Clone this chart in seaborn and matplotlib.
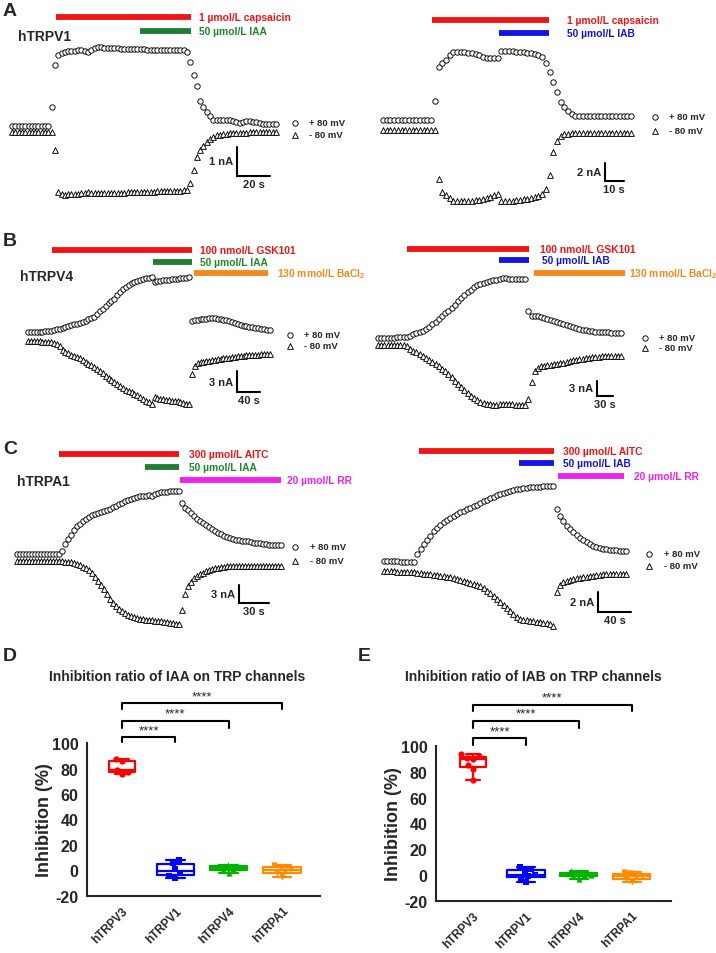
import numpy as np
import pandas as pd
import matplotlib.pyplot as plt
import seaborn as sns

# ---------------- trace data (nA), one value per sweep ----------------
# A: hTRPV1, capsaicin + IAA
a1_pos = [0.12, 0.10, 0.11, 0.10, 0.10, 0.11, 0.10, 0.10, 0.11, 0.10, 0.10, 0.10,
          0.76, 2.20, 2.55,
          2.62, 2.66, 2.68, 2.70, 2.70, 2.71, 2.72, 2.70, 2.66, 2.72, 2.78,
          2.82, 2.82, 2.80, 2.80, 2.79, 2.78, 2.78, 2.77, 2.77, 2.76, 2.76, 2.76, 2.75, 2.75,
          2.75, 2.74, 2.74, 2.74, 2.73, 2.73, 2.73, 2.72, 2.72, 2.72, 2.72, 2.71, 2.71, 2.66,
          2.31, 1.86, 1.48, 0.97, 0.76, 0.59, 0.45, 0.31,
          0.30, 0.30, 0.31, 0.31, 0.30, 0.28, 0.25, 0.22, 0.24, 0.27, 0.27, 0.25, 0.23, 0.20,
          0.18, 0.17, 0.17, 0.16, 0.16]
a1_neg = [-0.10, -0.10, -0.11, -0.10, -0.10, -0.10, -0.11, -0.10, -0.10, -0.10, -0.11, -0.10, -0.10,
          -0.72, -2.17,
          -2.24, -2.26, -2.25, -2.24, -2.24, -2.23, -2.22, -2.20, -2.17, -2.20, -2.22, -2.22, -2.21,
          -2.21, -2.20, -2.20, -2.20, -2.19, -2.19, -2.19, -2.18, -2.18, -2.18, -2.17, -2.17, -2.17,
          -2.16, -2.16, -2.16, -2.15, -2.15, -2.15, -2.14, -2.14, -2.14, -2.13, -2.13, -2.12, -2.10,
          -1.86, -1.41, -0.97, -0.72, -0.59, -0.45, -0.34,
          -0.26, -0.22, -0.19, -0.17, -0.16, -0.15, -0.14, -0.14, -0.13, -0.13, -0.13, -0.12, -0.12,
          -0.12, -0.12, -0.11, -0.11, -0.11, -0.11, -0.11]

# A: hTRPV1, capsaicin + IAB
a2_pos = [0.55, 0.56, 0.55, 0.55, 0.56, 0.55, 0.55, 0.55, 0.56, 0.55, 0.55, 0.55, 0.56, 0.55,
          2.67, 6.44, 6.89, 7.22, 7.78,
          8.1, 8.1, 8.1, 8.1, 8.05, 8.0, 7.9, 7.8, 7.6, 7.5, 7.45, 7.4, 7.4,
          8.2, 8.2, 8.2, 8.2, 8.15, 8.1, 8.1, 8.05, 8.0, 7.9, 7.8, 7.56,
          6.9, 5.9, 4.8, 3.67, 2.56, 2.0, 1.56, 1.22,
          1.02, 1.0, 1.0, 1.01, 1.0, 1.0, 0.99, 1.0, 1.0, 1.0, 0.99, 1.0, 1.0, 0.99, 1.0, 1.0]
a2_neg = [-0.55, -0.55, -0.55, -0.56, -0.55, -0.55, -0.55, -0.56, -0.55, -0.55, -0.55, -0.56,
          -0.55, -0.55, -0.55,
          -6.0, -7.44, -7.78, -8.1,
          -8.4, -8.45, -8.5, -8.5, -8.45, -8.4, -8.35, -8.3, -8.2, -8.1, -7.95, -7.8, -7.7,
          -8.45, -8.45, -8.4, -8.4, -8.35, -8.3, -8.25, -8.2, -8.1, -8.0, -7.9,
          -7.67, -7.1, -5.56, -3.0, -1.78, -1.22, -1.0,
          -0.95, -0.93, -0.92, -0.91, -0.9, -0.9, -0.89, -0.89, -0.88, -0.88, -0.88, -0.87,
          -0.87, -0.87, -0.86, -0.86, -0.86, -0.85]

# B: hTRPV4, GSK101 + IAA, then BaCl2
b1_pos = [0.71, 0.72, 0.73, 0.74, 0.76, 0.78, 0.80, 0.83, 0.86,
          0.98, 1.1, 1.2, 1.32, 1.45, 1.57, 1.68, 1.80, 1.92, 2.03, 2.14,
          2.35, 2.55, 2.72, 2.9, 3.3, 3.65, 4.0, 4.4, 4.8, 5.1, 5.45,
          5.95, 6.4, 6.85, 7.15, 7.4, 7.65, 7.9, 8.05, 8.15, 8.3, 8.4, 8.5, 8.55,
          7.9, 8.0, 8.05, 8.1, 8.15, 8.2, 8.25, 8.3, 8.35, 8.4, 8.45, 8.5, 8.55,
          2.3, 2.38, 2.45, 2.52, 2.58, 2.64, 2.68, 2.71,
          2.68, 2.62, 2.55, 2.46, 2.37, 2.27, 2.14,
          2.0, 1.88, 1.76, 1.64, 1.53, 1.43,
          1.36, 1.29, 1.22, 1.16, 1.10, 1.05, 1.0]
b1_neg = [-0.57, -0.58, -0.6, -0.62, -0.64, -0.66, -0.68, -0.7, -0.72,
          -0.8, -0.95, -1.3, -1.9, -2.15, -2.35, -2.5, -2.65, -2.85,
          -3.05, -3.3, -3.55, -3.8, -4.05, -4.3, -4.6, -4.9, -5.2, -5.5,
          -5.8, -6.1, -6.4, -6.7, -7.0, -7.25, -7.5, -7.7, -7.9, -8.1,
          -8.35, -8.6, -8.85, -9.1, -9.3, -9.5,
          -8.6, -8.7, -8.8, -8.9, -9.0, -9.05, -9.1, -9.15, -9.2, -9.3, -9.4, -9.5, -9.55,
          -5.3, -4.2, -3.75, -3.6, -3.5, -3.42, -3.36, -3.3,
          -3.25, -3.2, -3.13, -3.06, -3.0, -2.93, -2.86,
          -2.8, -2.75, -2.7, -2.65, -2.6, -2.57,
          -2.55, -2.52, -2.5, -2.48, -2.46, -2.44, -2.43]

# B: hTRPV4, GSK101 + IAB, then BaCl2
b2_pos = [0.67, 0.68, 0.70, 0.72, 0.74, 0.76, 0.79, 0.82, 0.86,
          0.9, 1.1, 1.4, 1.6, 1.8, 2.05, 2.4, 2.8, 3.3, 3.8, 4.3, 4.85, 5.4, 5.95, 6.5, 7.1,
          7.7, 8.3, 8.9, 9.5, 9.95, 10.4, 10.8, 11.1, 11.3, 11.5, 11.65, 11.8, 11.9, 12.05,
          12.2, 12.15, 12.1, 12.1, 12.05, 12.05, 12.0, 12.0,
          5.9, 4.95, 4.9, 4.85, 4.75, 4.6, 4.4, 4.2, 3.95, 3.7, 3.5, 3.3, 3.1, 2.9, 2.7,
          2.55, 2.4, 2.25, 2.15, 2.05, 1.97, 1.9, 1.85, 1.82, 1.78, 1.74, 1.7, 1.67, 1.65, 1.63]
b2_neg = [-0.67, -0.67, -0.68, -0.68, -0.69, -0.7, -0.7, -0.72, -0.75,
          -0.9, -1.5, -1.9, -2.1, -2.4, -2.75, -3.1, -3.5, -3.9, -4.3, -4.7, -5.2, -5.75,
          -6.3, -6.9, -7.5, -8.1, -8.7, -9.3, -9.9, -10.4, -10.9, -11.3, -11.65, -11.85,
          -12.0, -12.1, -12.2, -12.2, -12.1, -12.0,
          -12.05, -12.1, -12.1, -12.15, -12.15, -12.2, -12.2,
          -11.0, -7.8, -5.6, -5.0, -4.8, -4.65, -4.55, -4.45, -4.38, -4.3, -4.2, -4.05,
          -3.9, -3.75, -3.6, -3.5, -3.4, -3.3, -3.2, -3.12, -3.05, -2.98, -2.92, -2.87,
          -2.83, -2.8, -2.78, -2.76, -2.75, -2.73]

# C: hTRPA1, AITC + IAA, then RR
c1_pos = [0.58, 0.58, 0.57, 0.58, 0.58, 0.58, 0.57, 0.58, 0.58, 0.58, 0.57, 0.58, 0.58, 0.58,
          0.58, 1.08, 2.25, 3.1, 3.75, 4.6, 5.25, 5.6, 6.1, 6.4, 6.75, 7.1, 7.25, 7.4,
          7.6, 7.75, 7.9, 8.1, 8.4, 8.6, 8.9, 9.1, 9.4, 9.6, 9.75, 9.9, 10.1, 10.25,
          10.25, 10.3, 10.4, 10.25, 10.6, 10.75, 10.9, 10.9, 11.0, 11.1, 11.1, 11.1, 11.1,
          9.1, 8.25, 7.9, 7.4, 6.9, 6.4, 6.1, 5.75, 5.4, 5.1, 4.75, 4.4, 4.1, 3.85, 3.6,
          3.4, 3.25, 3.1, 3.0, 2.9, 2.8, 2.75, 2.67, 2.6, 2.5, 2.42, 2.35, 2.25, 2.2,
          2.15, 2.1, 2.08, 2.05, 2.05]
c1_neg = [-0.58, -0.58, -0.58, -0.57, -0.58, -0.58, -0.58, -0.58, -0.57, -0.58, -0.58, -0.58,
          -0.58, -0.58,
          -0.6, -0.65, -0.7, -0.75, -0.8, -0.9, -1.0, -1.25, -1.5, -1.8, -2.1, -2.6, -3.2,
          -3.9, -4.6, -5.3, -6.0, -6.9, -7.5, -8.0, -8.5, -8.9, -9.3, -9.55, -9.75, -9.95,
          -10.1, -10.25, -10.3, -10.35, -10.4, -10.45, -10.5, -10.6, -10.65, -10.7, -10.8,
          -10.85, -10.9, -11.0, -11.1,
          -8.75, -6.1, -4.75, -4.1, -3.4, -3.1, -2.75, -2.5, -2.25, -2.0, -1.9, -1.75,
          -1.67, -1.6, -1.5, -1.45, -1.42, -1.42, -1.41, -1.41, -1.4, -1.4, -1.4, -1.39,
          -1.39, -1.38, -1.38, -1.38, -1.37, -1.37, -1.37, -1.36, -1.36, -1.36]

# C: hTRPA1, AITC + IAB, then RR
c2_pos = [0.5, 0.5, 0.5, 0.48, 0.46, 0.45, 0.44, 0.43, 0.42, 0.42,
          1.2, 1.7, 2.2, 2.6, 3.0, 3.5, 3.8, 4.1, 4.4, 4.6, 4.8, 5.0, 5.2, 5.4, 5.55, 5.7,
          5.85, 6.0, 6.15, 6.3, 6.5, 6.65, 6.8, 6.95, 7.1, 7.2, 7.3, 7.4, 7.5, 7.6, 7.7,
          7.75, 7.8, 7.85, 7.9, 7.9, 7.95, 7.95, 8.0, 8.0, 8.05, 8.0,
          5.7, 5.0, 4.5, 4.0, 3.7, 3.4, 3.1, 2.85, 2.6, 2.4, 2.2, 2.05, 1.9, 1.8, 1.75,
          1.7, 1.65, 1.6, 1.6, 1.55, 1.5, 1.5]
c2_neg = [-0.5, -0.5, -0.52, -0.54, -0.55, -0.57, -0.58, -0.6, -0.6, -0.62,
          -0.65, -0.7, -0.75, -0.78, -0.8, -0.85, -0.9, -0.95, -1.0, -1.05, -1.1, -1.2,
          -1.3, -1.4, -1.5, -1.55, -1.65, -1.75, -1.85, -2.0, -2.2, -2.45, -2.7, -2.95,
          -3.25, -3.55, -3.85, -4.2, -4.5, -4.8, -5.1, -5.25, -5.35, -5.4, -5.45, -5.5,
          -5.55, -5.6, -5.65, -5.7, -5.8, -6.0,
          -2.6, -1.9, -1.6, -1.45, -1.35, -1.3, -1.2, -1.15, -1.1, -1.05, -1.0, -0.95,
          -0.9, -0.85, -0.82, -0.8, -0.8, -0.78, -0.78, -0.77, -0.76, -0.75]

# ---------------- inhibition ratios (%) ----------------
channels = ['hTRPV3', 'hTRPV1', 'hTRPV4', 'hTRPA1']
iaa_v3 = [76.0, 77.5, 79.0, 85.5, 87.5]
iaa_v1 = [-5.5, -4.0, -2.0, 1.5, 6.0, 8.0]
iaa_v4 = [-2.0, 0.5, 1.5, 2.5, 3.5, 4.5]
iaa_a1 = [-5.0, -2.0, -0.5, 1.0, 3.0, 4.0]
iab_v3 = [74.0, 82.0, 85.0, 90.0, 91.0, 92.5, 93.5]
iab_v1 = [-5.5, -2.5, -1.0, 0.5, 3.0, 5.0, 6.0]
iab_v4 = [-3.0, -1.0, 0.0, 0.5, 2.5, 3.5]
iab_a1 = [-5.5, -3.0, -1.5, -0.5, 1.5, 2.5]

W, H = 716, 954
RED, GREEN, BLUE, ORANGE, MAGENTA = '#F01515', '#1E7E34', '#1414E6', '#F28A1E', '#EE22EE'
GREEN_TXT = '#1D8A2A'
BOX_COLORS = ['#FF0000', '#0000FF', '#00B400', '#FF8C00']
BOX_MARKERS = ['o', 's', '^', 'v']
BOX_WIDTHS = [0.5, 0.7, 0.7, 0.7]

sns.set_style('white')
plt.rcParams['font.family'] = ['Liberation Sans', 'DejaVu Sans']
plt.rcParams['mathtext.fontset'] = 'custom'
plt.rcParams['mathtext.rm'] = 'Liberation Sans:bold'
plt.rcParams['mathtext.bf'] = 'Liberation Sans:bold'
plt.rcParams['axes.unicode_minus'] = False

fig = plt.figure(figsize=(W / 100, H / 100), dpi=100)
ov = fig.add_axes([0, 0, 1, 1])
ov.set_xlim(0, W)
ov.set_ylim(H, 0)
ov.axis('off')


def trace_ax(box, x0, y0, sx, sy):
    l, t, r, b = box
    ax = fig.add_axes([l / W, 1 - b / H, (r - l) / W, (b - t) / H])
    ax.set_xlim((l - x0) / sx, (r - x0) / sx)
    ax.set_ylim((y0 - b) / sy, (y0 - t) / sy)
    ax.axis('off')
    return ax


def draw_trace(p):
    ax = trace_ax(p['box'], p['x0'], p['y0'], p['sx'], p['sy'])
    for vals, mk, sz in [(p['neg'], '^', 17), (p['pos'], 'o', 15)]:
        t = np.arange(len(vals)) * p['dt']
        sns.scatterplot(x=t, y=vals, marker=mk, s=sz, color='white', edgecolor='black',
                        linewidth=0.65, ax=ax, legend=False, clip_on=False, zorder=3)
    ct, cc, cl, tl = p['bar']
    ax.plot([ct, ct, ct + tl], [cc + cl, cc, cc], color='black', lw=1.5,
            solid_joinstyle='miter', clip_on=False)
    ax.annotate(p['bar_txt'][0], xy=(ct, cc + cl / 2), xytext=(-2.5, 0),
                textcoords='offset points', ha='right', va='center',
                fontsize=8, fontweight='bold')
    ax.annotate(p['bar_txt'][1], xy=(ct + tl / 2, cc), xytext=(0, -2),
                textcoords='offset points', ha='center', va='top',
                fontsize=8, fontweight='bold')
    # drug application bars + labels (pixel coords)
    for (xa, xb, y, col, txt, tx, tcol) in p['drugs']:
        ov.plot([xa, xb], [y, y], color=col, lw=4.2, solid_capstyle='butt')
        ov.text(tx, y, txt, color=tcol, fontsize=7.4, fontweight='bold', va='center', ha='left')
    lx, ly1, ly2, ltx = p['legend']
    ov.scatter([lx], [ly1], marker='o', s=15, facecolor='white', edgecolor='black', linewidths=0.65)
    ov.scatter([lx], [ly2], marker='^', s=17, facecolor='white', edgecolor='black', linewidths=0.65)
    ov.text(ltx, ly1, '+ 80 mV', fontsize=6.8, fontweight='bold', va='center')
    ov.text(ltx, ly2, '- 80 mV', fontsize=6.8, fontweight='bold', va='center')


panels = [
    dict(pos=a1_pos, neg=a1_neg, dt=2, x0=12, y0=130, sx=1.65, sy=29, box=(5, 40, 285, 205),
         bar=(136.4, -1.62, 1, 20), bar_txt=('1 nA', '20 s'),
         drugs=[(56, 191, 18, RED, '1 µmol/L capsaicin', 199, RED),
                (140, 191, 32, GREEN, '50 µmol/L IAA', 199, GREEN_TXT)],
         legend=(295, 124, 136, 309)),
    dict(pos=a2_pos, neg=a2_neg, dt=2, x0=383, y0=126, sx=1.85, sy=9, box=(375, 40, 640, 210),
         bar=(120, -6.22, 2, 10), bar_txt=('2 nA', '10 s'),
         drugs=[(432, 549, 21, RED, '1 µmol/L capsaicin', 567, RED),
                (499, 549, 34, BLUE, '50 µmol/L IAB', 567, BLUE)],
         legend=(655, 118, 132, 669)),
    dict(pos=b1_pos, neg=b1_neg, dt=5, x0=28, y0=338, sx=0.575, sy=7, box=(20, 270, 280, 410),
         bar=(363.5, -7.86, 3, 40), bar_txt=('3 nA', '40 s'),
         drugs=[(52, 192, 251, RED, '100 nmol/L GSK101', 200, RED),
                (153, 192, 263, GREEN, '50 µmol/L IAA', 200, GREEN_TXT),
                (194, 268, 274, ORANGE, r'130 mmol/L BaCl$_2$', 277, ORANGE)],
         legend=(290, 336, 347, 304)),
    dict(pos=b2_pos, neg=b2_neg, dt=6, x0=378, y0=342.5, sx=0.533, sy=5.2, box=(370, 270, 630, 410),
         bar=(411, -10.5, 3, 30), bar_txt=('3 nA', '30 s'),
         drugs=[(407, 529, 250, RED, '100 nmol/L GSK101', 540, RED),
                (499, 529, 261, BLUE, '50 µmol/L IAB', 542, BLUE),
                (534, 625, 274, ORANGE, r'130 mmol/L BaCl$_2$', 629, ORANGE)],
         legend=(645, 339, 349, 659)),
    dict(pos=c1_pos, neg=c1_neg, dt=3, x0=17, y0=558.5, sx=1.0, sy=6, box=(10, 485, 290, 630),
         bar=(222, -7.6, 3, 30), bar_txt=('3 nA', '30 s'),
         drugs=[(59, 179, 455, RED, '300 µmol/L AITC', 189, RED),
                (145, 179, 468, GREEN, '50 µmol/L IAA', 189, GREEN_TXT),
                (180, 281, 481, MAGENTA, '20 µmol/L RR', 287, MAGENTA)],
         legend=(295, 548, 562, 310)),
    dict(pos=c2_pos, neg=c2_neg, dt=4, x0=384, y0=567, sx=0.83, sy=10, box=(375, 480, 635, 630),
         bar=(258, -4.6, 2, 40), bar_txt=('2 nA', '40 s'),
         drugs=[(419, 554, 452, RED, '300 µmol/L AITC', 563, RED),
                (519, 554, 464, BLUE, '50 µmol/L IAB', 563, BLUE),
                (558, 624, 477, MAGENTA, '20 µmol/L RR', 634, MAGENTA)],
         legend=(649, 555, 567, 664)),
]
for p in panels:
    draw_trace(p)

for txt, x, y in [('hTRPV1', 18, 37), ('hTRPV4', 20, 277), ('hTRPA1', 17, 482)]:
    ov.text(x, y, txt, fontsize=10, fontweight='bold', va='center')
for txt, x, y in [('A', 3, 12), ('B', 3, 242), ('C', 3, 450), ('D', 3, 657), ('E', 358, 657)]:
    ov.text(x, y, txt, fontsize=14, fontweight='bold', va='center')


# ---------------- box plots D / E ----------------
def box_panel(rect, xlim, groups_vals, title, tx, brackets):
    l, t, r, b = rect
    ax = fig.add_axes([l / W, 1 - b / H, (r - l) / W, (b - t) / H])
    df = pd.DataFrame({'channel': np.repeat(channels, [len(v) for v in groups_vals]),
                       'inhibition': np.concatenate(groups_vals)})
    for i, ch in enumerate(channels):
        sub = df[df['channel'] == ch]
        sns.boxplot(data=sub, x='channel', y='inhibition', order=channels, color=BOX_COLORS[i],
                    fill=False, width=BOX_WIDTHS[i], linewidth=1.6, whis=(0, 100),
                    showfliers=False, ax=ax)
        sns.swarmplot(data=sub, x='channel', y='inhibition', order=channels, color=BOX_COLORS[i],
                      marker=BOX_MARKERS[i], size=4.5, ax=ax)
    ax.set_xlim(*xlim)
    ax.set_ylim(-20, 100)
    ax.set_yticks(range(-20, 101, 20))
    ax.set_xticks(range(4))
    ax.set_xticklabels(channels, rotation=45, ha='right', rotation_mode='anchor',
                       fontsize=8.5, fontweight='bold')
    for lbl in ax.get_yticklabels():
        lbl.set_fontweight('bold')
    ax.tick_params(axis='y', labelsize=11.5, width=1.5, length=4, pad=2)
    ax.tick_params(axis='x', width=1.5, length=4, pad=2)
    ax.set_xlabel('')
    ax.set_ylabel('Inhibition (%)', fontsize=13, fontweight='bold', labelpad=-1)
    sns.despine(ax=ax)
    for s in ['left', 'bottom']:
        ax.spines[s].set_linewidth(1.5)
    ov.text(tx, 677, title, fontsize=10, fontweight='bold', ha='center', va='center')
    for (xa, xb, top, leg) in brackets:
        ax.plot([xa, xa, xb, xb], [leg, top, top, leg], color='black', lw=1.5, clip_on=False)
        ax.text((xa + xb) / 2, top + 0.8, '****', ha='center', va='bottom', fontsize=9.5,
                clip_on=False)
    return ax


box_panel((87, 744, 320, 897), (-0.656, 3.71), [iaa_v3, iaa_v1, iaa_v4, iaa_a1],
          'Inhibition ratio of IAA on TRP channels', 177,
          [(0, 1, 104.5, 100.5), (0, 2, 117.5, 111.5), (0, 3, 131, 126.5)])
box_panel((436, 747, 671, 902), (-0.70, 3.74), [iab_v3, iab_v1, iab_v4, iab_a1],
          'Inhibition ratio of IAB on TRP channels', 533,
          [(0, 1, 106, 101), (0, 2, 119.4, 114), (0, 3, 131.8, 127)])

fig.savefig('out.png', dpi=100)
